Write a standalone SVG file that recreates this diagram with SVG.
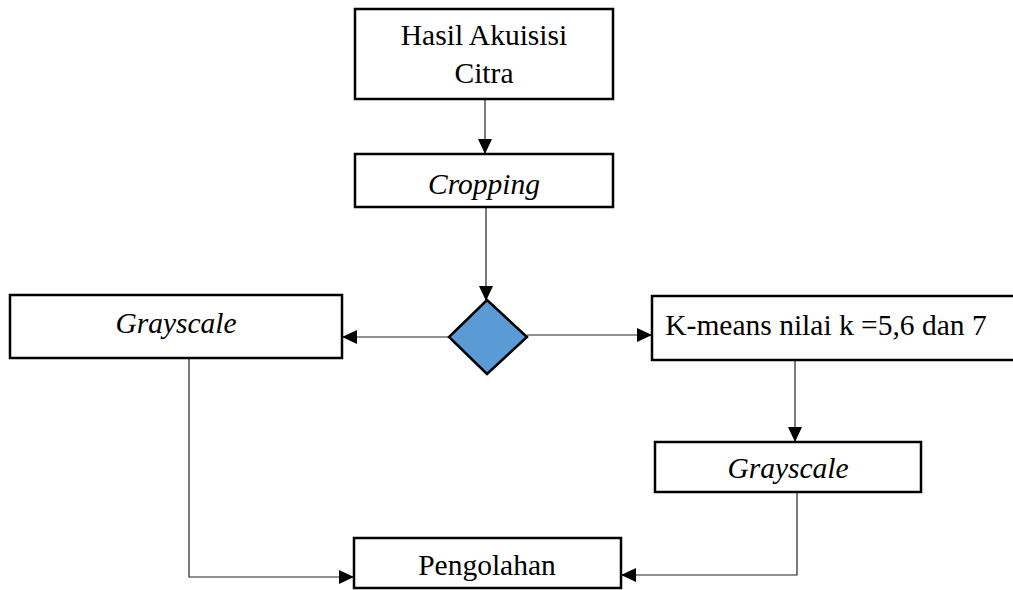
<svg xmlns="http://www.w3.org/2000/svg" width="1013" height="590" viewBox="0 0 1013 590">
<style>
.box{fill:#fff;stroke:#000;stroke-width:2.5}
.t{font-family:"Liberation Serif","Times New Roman",serif;font-size:29.5px;fill:#000;text-anchor:middle}
.i{font-style:italic}
.c{fill:none;stroke:#222;stroke-width:1.2}
</style>
<defs>
<marker id="ah" markerWidth="15" markerHeight="14" refX="14" refY="7" orient="auto" markerUnits="userSpaceOnUse">
<path d="M0,0 L15,7 L0,14 Z" fill="#000"/>
</marker>
</defs>
<rect width="1013" height="590" fill="#fff"/>
<g id="connectors">
<line class="c" x1="485" y1="100" x2="485" y2="153" marker-end="url(#ah)"/>
<line class="c" x1="486" y1="208" x2="486" y2="300" marker-end="url(#ah)"/>
<line class="c" x1="448" y1="337" x2="343" y2="337" marker-end="url(#ah)"/>
<line class="c" x1="527" y1="335" x2="651" y2="335" marker-end="url(#ah)"/>
<line class="c" x1="795" y1="361" x2="795" y2="441" marker-end="url(#ah)"/>
<polyline class="c" points="189,359 189,577 353,577" marker-end="url(#ah)"/>
<polyline class="c" points="797,493 797,575 622,575" marker-end="url(#ah)"/>
</g>
<g id="n-akuisisi">
<rect class="box" x="355" y="9" width="258" height="90"/>
<text class="t" x="484" y="45">Hasil Akuisisi</text>
<text class="t" x="484" y="83">Citra</text>
</g>
<g id="n-cropping">
<rect class="box" x="355" y="154" width="258" height="53"/>
<text class="t i" x="484" y="194">Cropping</text>
</g>
<g id="n-decision">
<polygon points="487,300 527,337 487,374 449,337" fill="#5B9BD5" stroke="#000" stroke-width="2.5"/>
</g>
<g id="n-grayscale1">
<rect class="box" x="10" y="295" width="332" height="63"/>
<text class="t i" x="176" y="333">Grayscale</text>
</g>
<g id="n-kmeans">
<rect class="box" x="652" y="296" width="370" height="64"/>
<text class="t" x="826" y="335">K-means nilai k =5,6 dan 7</text>
</g>
<g id="n-grayscale2">
<rect class="box" x="655" y="442" width="266" height="50"/>
<text class="t i" x="788" y="478">Grayscale</text>
</g>
<g id="n-pengolahan">
<rect class="box" x="354" y="538" width="267" height="50"/>
<text class="t" x="487" y="575">Pengolahan</text>
</g>
</svg>
